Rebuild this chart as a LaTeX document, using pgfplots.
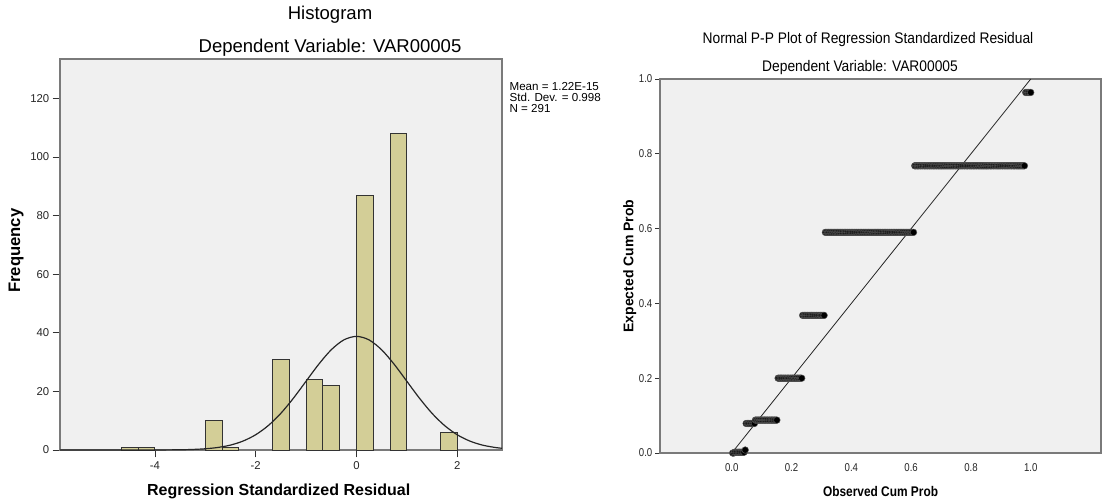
\documentclass[border=0pt]{standalone}
\usepackage{fontspec}
\setmainfont{Liberation Sans}
\newfontfamily\narrow[FakeStretch=0.85]{Liberation Sans}
\newfontfamily\narrowtitle[FakeStretch=0.9]{Liberation Sans}
\usepackage{pgfplots}
\pgfplotsset{compat=1.18}
\definecolor{panel}{HTML}{F0F0F0}
\definecolor{barfill}{HTML}{D3CE97}
\definecolor{frame}{HTML}{7A7A7A}

\begin{document}
\begin{tikzpicture}
\path[use as bounding box] (0,0) rectangle (826.5pt,-375pt);

% histogram of residuals
\begin{axis}[at={(45pt,-337.5pt)},anchor=south west,scale only axis,
 width=331.5pt,height=293.25pt,
 xmin=-5.885,xmax=2.89,ymin=0,ymax=133.4,
 axis background/.style={fill=panel},
 axis line style={frame,line width=1pt},
 xtick={-4,-2,0,2},ytick={0,20,40,60,80,100,120},
 tick align=outside,xtick pos=left,ytick pos=left,
 major tick length=5.5pt,tick style={black!80,line width=0.6pt},
 ticklabel style={font=\fontsize{8.5}{10}\selectfont,text=black!85},
 yticklabel style={xshift=1pt},
 /pgf/number format/assume math mode=true]
 \addplot[ybar,bar width=0.3333,bar shift=0pt,fill=barfill,draw=black!80,line width=0.7pt]
  coordinates {(-4.5,1)(-4.1667,1)(-2.8333,10)(-2.5,1)(-1.5,31)(-0.8333,24)
   (-0.5,22)(0.1667,87)(0.8333,108)(1.8333,6)};
 \addplot[smooth,no marks,black!85,line width=0.9pt]
  coordinates {(-5.885,0)(-5,0.0001)(-4.5,0.0015)(-4,0.013)(-3.5,0.083)(-3.25,0.193)
   (-3,0.423)(-2.75,0.870)(-2.5,1.68)(-2.25,3.06)(-2,5.21)(-1.75,8.34)(-1.5,12.53)
   (-1.25,17.70)(-1,23.47)(-0.75,29.23)(-0.5,34.20)(-0.25,37.57)(0,38.77)
   (0.25,37.57)(0.5,34.20)(0.75,29.23)(1,23.47)(1.25,17.70)(1.5,12.53)(1.75,8.34)
   (2,5.21)(2.25,3.06)(2.5,1.68)(2.75,0.870)(2.89,0.585)};
\end{axis}

% normal P-P plot
\begin{axis}[at={(495pt,-339.75pt)},anchor=south west,scale only axis,
 width=330.75pt,height=280.5pt,
 xmin=-0.24,xmax=1.235,ymin=0,ymax=1,clip=false,
 axis background/.style={fill=panel},
 axis line style={frame,line width=1pt},
 xtick={0,0.2,0.4,0.6,0.8,1},ytick={0,0.2,0.4,0.6,0.8,1},
 tick align=outside,xtick pos=left,ytick pos=left,
 major tick length=3.75pt,tick style={black!80,line width=0.6pt},
 xtick style={draw=none},
 ticklabel style={font=\narrow\fontsize{8.5}{10}\selectfont,text=black!85},
 xticklabel style={yshift=-1pt},yticklabel style={xshift=1.5pt},
 /pgf/number format/.cd,fixed,fixed zerofill,precision=1,assume math mode=true]
 \addplot[black!85,line width=0.6pt] coordinates {(0,0)(1,1)};
 \addplot[only marks,mark=*,mark size=2.5pt,
  mark options={fill=black,draw=black!65,line width=0.35pt}]
  coordinates {
  (0.003,0)(0.007,0)(0.010,0.002)(0.014,0.002)(0.017,0.002)(0.021,0.002)(0.024,0.002)
  (0.027,0.002)(0.031,0.002)(0.034,0.002)(0.038,0.002)(0.041,0.002)(0.045,0.008)
  (0.048,0.079)(0.052,0.079)(0.055,0.079)(0.058,0.079)(0.062,0.079)(0.065,0.079)
  (0.069,0.079)(0.072,0.079)(0.076,0.079)
  (0.079,0.088)(0.082,0.088)(0.086,0.088)(0.089,0.088)(0.093,0.088)(0.096,0.088)
  (0.100,0.088)(0.103,0.088)(0.107,0.088)(0.110,0.088)(0.113,0.088)(0.117,0.088)
  (0.120,0.088)(0.124,0.088)(0.127,0.088)(0.131,0.088)(0.134,0.088)(0.137,0.088)
  (0.141,0.088)(0.144,0.088)(0.148,0.088)(0.151,0.088)
  (0.155,0.2)(0.158,0.2)(0.162,0.2)(0.165,0.2)(0.168,0.2)(0.172,0.2)(0.175,0.2)
  (0.179,0.2)(0.182,0.2)(0.186,0.2)(0.189,0.2)(0.192,0.2)(0.196,0.2)(0.199,0.2)
  (0.203,0.2)(0.206,0.2)(0.210,0.2)(0.213,0.2)(0.216,0.2)(0.220,0.2)(0.223,0.2)
  (0.227,0.2)(0.230,0.2)(0.234,0.2)
  (0.237,0.368)(0.241,0.368)(0.244,0.368)(0.247,0.368)(0.251,0.368)(0.254,0.368)
  (0.258,0.368)(0.261,0.368)(0.265,0.368)(0.268,0.368)(0.271,0.368)(0.275,0.368)
  (0.278,0.368)(0.282,0.368)(0.285,0.368)(0.289,0.368)(0.292,0.368)(0.296,0.368)
  (0.299,0.368)(0.302,0.368)(0.306,0.368)(0.309,0.368)
  (0.313,0.59)(0.316,0.59)(0.320,0.59)(0.323,0.59)(0.326,0.59)(0.330,0.59)(0.333,0.59)
  (0.337,0.59)(0.340,0.59)(0.344,0.59)(0.347,0.59)(0.351,0.59)(0.354,0.59)(0.357,0.59)
  (0.361,0.59)(0.364,0.59)(0.368,0.59)(0.371,0.59)(0.375,0.59)(0.378,0.59)(0.381,0.59)
  (0.385,0.59)(0.388,0.59)(0.392,0.59)(0.395,0.59)(0.399,0.59)(0.402,0.59)(0.405,0.59)
  (0.409,0.59)(0.412,0.59)(0.416,0.59)(0.419,0.59)(0.423,0.59)(0.426,0.59)(0.430,0.59)
  (0.433,0.59)(0.436,0.59)(0.440,0.59)(0.443,0.59)(0.447,0.59)(0.450,0.59)(0.454,0.59)
  (0.457,0.59)(0.460,0.59)(0.464,0.59)(0.467,0.59)(0.471,0.59)(0.474,0.59)(0.478,0.59)
  (0.481,0.59)(0.485,0.59)(0.488,0.59)(0.491,0.59)(0.495,0.59)(0.498,0.59)(0.502,0.59)
  (0.505,0.59)(0.509,0.59)(0.512,0.59)(0.515,0.59)(0.519,0.59)(0.522,0.59)(0.526,0.59)
  (0.529,0.59)(0.533,0.59)(0.536,0.59)(0.540,0.59)(0.543,0.59)(0.546,0.59)(0.550,0.59)
  (0.553,0.59)(0.557,0.59)(0.560,0.59)(0.564,0.59)(0.567,0.59)(0.570,0.59)(0.574,0.59)
  (0.577,0.59)(0.581,0.59)(0.584,0.59)(0.588,0.59)(0.591,0.59)(0.595,0.59)(0.598,0.59)
  (0.601,0.59)(0.605,0.59)(0.608,0.59)
  (0.612,0.768)(0.615,0.768)(0.619,0.768)(0.622,0.768)(0.625,0.768)(0.629,0.768)
  (0.632,0.768)(0.636,0.768)(0.639,0.768)(0.643,0.768)(0.646,0.768)(0.649,0.768)
  (0.653,0.768)(0.656,0.768)(0.660,0.768)(0.663,0.768)(0.667,0.768)(0.670,0.768)
  (0.674,0.768)(0.677,0.768)(0.680,0.768)(0.684,0.768)(0.687,0.768)(0.691,0.768)
  (0.694,0.768)(0.698,0.768)(0.701,0.768)(0.704,0.768)(0.708,0.768)(0.711,0.768)
  (0.715,0.768)(0.718,0.768)(0.722,0.768)(0.725,0.768)(0.729,0.768)(0.732,0.768)
  (0.735,0.768)(0.739,0.768)(0.742,0.768)(0.746,0.768)(0.749,0.768)(0.753,0.768)
  (0.756,0.768)(0.759,0.768)(0.763,0.768)(0.766,0.768)(0.770,0.768)(0.773,0.768)
  (0.777,0.768)(0.780,0.768)(0.784,0.768)(0.787,0.768)(0.790,0.768)(0.794,0.768)
  (0.797,0.768)(0.801,0.768)(0.804,0.768)(0.808,0.768)(0.811,0.768)(0.814,0.768)
  (0.818,0.768)(0.821,0.768)(0.825,0.768)(0.828,0.768)(0.832,0.768)(0.835,0.768)
  (0.838,0.768)(0.842,0.768)(0.845,0.768)(0.849,0.768)(0.852,0.768)(0.856,0.768)
  (0.859,0.768)(0.863,0.768)(0.866,0.768)(0.869,0.768)(0.873,0.768)(0.876,0.768)
  (0.880,0.768)(0.883,0.768)(0.887,0.768)(0.890,0.768)(0.893,0.768)(0.897,0.768)
  (0.900,0.768)(0.904,0.768)(0.907,0.768)(0.911,0.768)(0.914,0.768)(0.918,0.768)
  (0.921,0.768)(0.924,0.768)(0.928,0.768)(0.931,0.768)(0.935,0.768)(0.938,0.768)
  (0.942,0.768)(0.945,0.768)(0.948,0.768)(0.952,0.768)(0.955,0.768)(0.959,0.768)
  (0.962,0.768)(0.966,0.768)(0.969,0.768)(0.973,0.768)(0.976,0.768)(0.979,0.768)
  (0.983,0.964)(0.986,0.964)(0.990,0.964)(0.993,0.964)(0.997,0.964)(1.000,0.964)};
\end{axis}

% titles, labels and summary text
\node[anchor=base,font=\fontsize{13.9}{15}\selectfont] at (247.5pt,-14.6pt) {Histogram};
\node[anchor=base,font=\fontsize{13.9}{15}\selectfont] at (247.5pt,-39.4pt) {Dependent Variable: VAR00005};
\node[anchor=base,font=\bfseries\fontsize{12}{14}\selectfont] at (209pt,-371.25pt) {Regression Standardized Residual};
\node[anchor=base,rotate=90,font=\bfseries\fontsize{12.5}{14}\selectfont] at (15pt,-188pt) {Frequency};
\node[anchor=north west,align=left,inner sep=0pt,font=\fontsize{8.7}{8.2}\selectfont] at (382pt,-61.5pt)
 {Mean = 1.22E-15\\Std. Dev. = 0.998\\N = 291};
\node[anchor=base,font=\narrowtitle\fontsize{11.5}{13}\selectfont] at (651pt,-32.5pt) {Normal P-P Plot of Regression Standardized Residual};
\node[anchor=base,font=\narrowtitle\fontsize{11.5}{13}\selectfont] at (645pt,-53.8pt) {Dependent Variable: VAR00005};
\node[anchor=base,font=\narrow\bfseries\fontsize{10.5}{12}\selectfont] at (660.4pt,-372pt) {Observed Cum Prob};
\node[anchor=base,rotate=90,font=\bfseries\fontsize{10.5}{12}\selectfont] at (475pt,-199.5pt) {Expected Cum Prob};
\end{tikzpicture}
\end{document}
